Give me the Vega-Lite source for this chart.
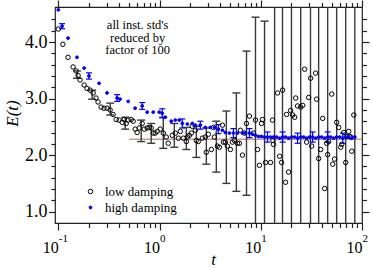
{
  "$schema": "https://vega.github.io/schema/vega-lite/v6.json",
  "width": 307,
  "height": 216,
  "autosize": {"type": "none"},
  "padding": {"left": 55, "top": 7, "right": 11, "bottom": 45},
  "background": "white",
  "config": {
    "view": {"stroke": "#222", "strokeWidth": 1.2},
    "axis": {"labelFont": "Liberation Serif", "titleFont": "Liberation Serif", "labelColor": "black", "titleColor": "black", "tickColor": "#222", "tickWidth": 1.2, "domain": false, "grid": false, "labelOverlap": false, "labelFlush": false, "titleFontWeight": "normal", "titleFontStyle": "italic"},
    "legend": {"orient": "none", "legendX": 29, "legendY": 178, "title": null, "labelFont": "Liberation Serif", "labelFontSize": 13, "labelColor": "black", "rowPadding": 2, "symbolStrokeWidth": 1, "labelOffset": 8, "padding": 0}
  },
  "datasets": {
    "ref": [{"t1": 0.5, "t2": 100, "E": 2.28}],
    "bbars": [
      {"t": 0.153, "lo": 3.36, "hi": 3.49}, {"t": 0.216, "lo": 2.99, "hi": 3.15}, {"t": 0.326, "lo": 2.71, "hi": 2.92},
      {"t": 0.458, "lo": 2.46, "hi": 2.67}, {"t": 0.659, "lo": 2.24, "hi": 2.62}, {"t": 0.828, "lo": 2.21, "hi": 2.56},
      {"t": 1.089, "lo": 2.12, "hi": 2.67}, {"t": 1.4, "lo": 2.14, "hi": 2.56}, {"t": 1.84, "lo": 2.1, "hi": 2.49},
      {"t": 2.31, "lo": 1.96, "hi": 2.51}, {"t": 2.9, "lo": 1.84, "hi": 2.48}, {"t": 3.64, "lo": 1.7, "hi": 2.6},
      {"t": 4.57, "lo": 1.5, "hi": 2.78}, {"t": 5.74, "lo": 1.36, "hi": 3.1}, {"t": 7.23, "lo": 1.29, "hi": 3.84},
      {"t": 8.87, "lo": 0.1, "hi": 4.44}, {"t": 10.9, "lo": 0.2, "hi": 4.37}, {"t": 13.7, "lo": -5, "hi": 10},
      {"t": 16.4, "lo": -5, "hi": 10}, {"t": 20.1, "lo": -5, "hi": 10}, {"t": 24.8, "lo": -5, "hi": 10},
      {"t": 31.0, "lo": -5, "hi": 10}, {"t": 37.3, "lo": -5, "hi": 10}, {"t": 45.8, "lo": -5, "hi": 10},
      {"t": 56.2, "lo": -5, "hi": 10}, {"t": 69.0, "lo": -5, "hi": 10}, {"t": 84.9, "lo": -5, "hi": 10}
    ],
    "ubars": [
      {"t": 0.109, "lo": 4.235, "hi": 4.325}, {"t": 0.201, "lo": 3.345, "hi": 3.455}, {"t": 0.381, "lo": 2.95, "hi": 3.07},
      {"t": 0.674, "lo": 2.81, "hi": 2.93}, {"t": 1.064, "lo": 2.66, "hi": 2.82}, {"t": 1.679, "lo": 2.48, "hi": 2.64},
      {"t": 2.529, "lo": 2.46, "hi": 2.6}, {"t": 3.81, "lo": 2.38, "hi": 2.54}, {"t": 5.37, "lo": 2.31, "hi": 2.47},
      {"t": 7.73, "lo": 2.31, "hi": 2.47}, {"t": 11.65, "lo": 2.23, "hi": 2.41}, {"t": 16.44, "lo": 2.23, "hi": 2.41},
      {"t": 23.12, "lo": 2.21, "hi": 2.39}, {"t": 32.5, "lo": 2.23, "hi": 2.41}, {"t": 45.82, "lo": 2.23, "hi": 2.41},
      {"t": 64.6, "lo": 2.21, "hi": 2.39}
    ],
    "pts": [
      {"s": "low damping", "t": 0.1, "E": 4.23}, {"s": "low damping", "t": 0.111, "E": 3.96}, {"s": "low damping", "t": 0.125, "E": 3.73},
      {"s": "low damping", "t": 0.14, "E": 3.56}, {"s": "low damping", "t": 0.15, "E": 3.49}, {"s": "low damping", "t": 0.157, "E": 3.41},
      {"s": "low damping", "t": 0.164, "E": 3.33}, {"s": "low damping", "t": 0.18, "E": 3.24}, {"s": "low damping", "t": 0.192, "E": 3.18},
      {"s": "low damping", "t": 0.206, "E": 3.15}, {"s": "low damping", "t": 0.221, "E": 3.1}, {"s": "low damping", "t": 0.236, "E": 3.01},
      {"s": "low damping", "t": 0.247, "E": 2.94}, {"s": "low damping", "t": 0.265, "E": 2.85}, {"s": "low damping", "t": 0.283, "E": 2.83},
      {"s": "low damping", "t": 0.303, "E": 2.83}, {"s": "low damping", "t": 0.325, "E": 2.8}, {"s": "low damping", "t": 0.348, "E": 2.72},
      {"s": "low damping", "t": 0.373, "E": 2.63}, {"s": "low damping", "t": 0.399, "E": 2.62}, {"s": "low damping", "t": 0.428, "E": 2.58},
      {"s": "low damping", "t": 0.448, "E": 2.63}, {"s": "low damping", "t": 0.468, "E": 2.56}, {"s": "low damping", "t": 0.49, "E": 2.62},
      {"s": "low damping", "t": 0.525, "E": 2.63}, {"s": "low damping", "t": 0.549, "E": 2.6}, {"s": "low damping", "t": 0.574, "E": 2.46},
      {"s": "low damping", "t": 0.601, "E": 2.4}, {"s": "low damping", "t": 0.63, "E": 2.48}, {"s": "low damping", "t": 0.674, "E": 2.56},
      {"s": "low damping", "t": 0.706, "E": 2.46}, {"s": "low damping", "t": 0.755, "E": 2.48}, {"s": "low damping", "t": 0.791, "E": 2.49},
      {"s": "low damping", "t": 0.828, "E": 2.48}, {"s": "low damping", "t": 0.867, "E": 2.39}, {"s": "low damping", "t": 0.906, "E": 2.39},
      {"s": "low damping", "t": 0.949, "E": 2.42}, {"s": "low damping", "t": 1.016, "E": 2.46}, {"s": "low damping", "t": 1.089, "E": 2.39},
      {"s": "low damping", "t": 1.165, "E": 2.32}, {"s": "low damping", "t": 1.219, "E": 2.21}, {"s": "low damping", "t": 1.337, "E": 2.35},
      {"s": "low damping", "t": 1.432, "E": 2.39}, {"s": "low damping", "t": 1.534, "E": 2.3}, {"s": "low damping", "t": 1.604, "E": 2.42},
      {"s": "low damping", "t": 1.718, "E": 2.3}, {"s": "low damping", "t": 1.841, "E": 2.24}, {"s": "low damping", "t": 1.884, "E": 2.32},
      {"s": "low damping", "t": 1.968, "E": 2.35}, {"s": "low damping", "t": 2.061, "E": 2.39}, {"s": "low damping", "t": 2.109, "E": 2.51},
      {"s": "low damping", "t": 2.259, "E": 2.44}, {"s": "low damping", "t": 2.307, "E": 2.26}, {"s": "low damping", "t": 2.416, "E": 2.24},
      {"s": "low damping", "t": 2.647, "E": 2.3}, {"s": "low damping", "t": 2.834, "E": 2.32}, {"s": "low damping", "t": 2.898, "E": 2.05},
      {"s": "low damping", "t": 3.035, "E": 2.37}, {"s": "low damping", "t": 3.251, "E": 2.1}, {"s": "low damping", "t": 3.404, "E": 2.49},
      {"s": "low damping", "t": 3.483, "E": 2.32}, {"s": "low damping", "t": 3.724, "E": 2.16}, {"s": "low damping", "t": 3.9, "E": 2.14},
      {"s": "low damping", "t": 4.178, "E": 2.53}, {"s": "low damping", "t": 4.273, "E": 2.23}, {"s": "low damping", "t": 4.467, "E": 2.23},
      {"s": "low damping", "t": 4.677, "E": 2.16}, {"s": "low damping", "t": 5.011, "E": 2.1}, {"s": "low damping", "t": 5.248, "E": 2.23},
      {"s": "low damping", "t": 5.495, "E": 2.26}, {"s": "low damping", "t": 5.887, "E": 2.21}, {"s": "low damping", "t": 6.152, "E": 2.21},
      {"s": "low damping", "t": 6.295, "E": 2.44}, {"s": "low damping", "t": 6.592, "E": 2.0}, {"s": "low damping", "t": 6.902, "E": 2.39},
      {"s": "low damping", "t": 7.226, "E": 2.56}, {"s": "low damping", "t": 7.727, "E": 2.69}, {"s": "low damping", "t": 8.472, "E": 2.39},
      {"s": "low damping", "t": 8.872, "E": 2.62}, {"s": "low damping", "t": 9.29, "E": 2.1}, {"s": "low damping", "t": 9.708, "E": 1.82},
      {"s": "low damping", "t": 10.17, "E": 2.56}, {"s": "low damping", "t": 10.4, "E": 2.63}, {"s": "low damping", "t": 11.14, "E": 1.87},
      {"s": "low damping", "t": 12.48, "E": 1.87}, {"s": "low damping", "t": 13.06, "E": 2.62}, {"s": "low damping", "t": 13.2, "E": 2.26},
      {"s": "low damping", "t": 13.37, "E": 2.19}, {"s": "low damping", "t": 14.66, "E": 3.1}, {"s": "low damping", "t": 15.35, "E": 1.98},
      {"s": "low damping", "t": 16.07, "E": 1.87}, {"s": "low damping", "t": 16.44, "E": 3.15}, {"s": "low damping", "t": 17.58, "E": 1.52},
      {"s": "low damping", "t": 17.99, "E": 2.72}, {"s": "low damping", "t": 18.84, "E": 1.7}, {"s": "low damping", "t": 19.72, "E": 2.79},
      {"s": "low damping", "t": 20.65, "E": 2.71}, {"s": "low damping", "t": 21.62, "E": 2.67}, {"s": "low damping", "t": 22.13, "E": 3.01},
      {"s": "low damping", "t": 23.12, "E": 2.87}, {"s": "low damping", "t": 24.77, "E": 2.85}, {"s": "low damping", "t": 25.94, "E": 2.88},
      {"s": "low damping", "t": 27.16, "E": 3.52}, {"s": "low damping", "t": 28.38, "E": 2.23}, {"s": "low damping", "t": 29.72, "E": 3.02},
      {"s": "low damping", "t": 31.12, "E": 3.36}, {"s": "low damping", "t": 31.84, "E": 2.16}, {"s": "low damping", "t": 34.83, "E": 3.45},
      {"s": "low damping", "t": 35.65, "E": 2.99}, {"s": "low damping", "t": 37.33, "E": 1.94}, {"s": "low damping", "t": 39.08, "E": 2.1},
      {"s": "low damping", "t": 40.92, "E": 2.65}, {"s": "low damping", "t": 42.76, "E": 1.41}, {"s": "low damping", "t": 44.78, "E": 2.21},
      {"s": "low damping", "t": 45.82, "E": 2.01}, {"s": "low damping", "t": 46.89, "E": 2.24}, {"s": "low damping", "t": 50.23, "E": 3.08},
      {"s": "low damping", "t": 51.4, "E": 1.84}, {"s": "low damping", "t": 53.7, "E": 1.93}, {"s": "low damping", "t": 56.23, "E": 2.58},
      {"s": "low damping", "t": 58.88, "E": 2.49}, {"s": "low damping", "t": 61.66, "E": 2.14}, {"s": "low damping", "t": 63.1, "E": 2.19},
      {"s": "low damping", "t": 66.07, "E": 2.4}, {"s": "low damping", "t": 69.02, "E": 1.87}, {"s": "low damping", "t": 70.63, "E": 2.33},
      {"s": "low damping", "t": 73.96, "E": 2.42}, {"s": "low damping", "t": 75.68, "E": 2.33}, {"s": "low damping", "t": 77.45, "E": 2.32},
      {"s": "low damping", "t": 79.25, "E": 2.07}, {"s": "low damping", "t": 82.99, "E": 2.71},
      {"s": "high damping", "t": 0.1, "E": 4.57}, {"s": "high damping", "t": 0.109, "E": 4.28}, {"s": "high damping", "t": 0.125, "E": 4.07},
      {"s": "high damping", "t": 0.153, "E": 3.73}, {"s": "high damping", "t": 0.18, "E": 3.54}, {"s": "high damping", "t": 0.201, "E": 3.4},
      {"s": "high damping", "t": 0.253, "E": 3.27}, {"s": "high damping", "t": 0.303, "E": 3.1}, {"s": "high damping", "t": 0.381, "E": 3.01},
      {"s": "high damping", "t": 0.408, "E": 2.99}, {"s": "high damping", "t": 0.49, "E": 2.95}, {"s": "high damping", "t": 0.574, "E": 2.83},
      {"s": "high damping", "t": 0.674, "E": 2.87}, {"s": "high damping", "t": 0.755, "E": 2.76}, {"s": "high damping", "t": 0.867, "E": 2.76},
      {"s": "high damping", "t": 0.993, "E": 2.76}, {"s": "high damping", "t": 1.064, "E": 2.74}, {"s": "high damping", "t": 1.138, "E": 2.67},
      {"s": "high damping", "t": 1.306, "E": 2.6}, {"s": "high damping", "t": 1.432, "E": 2.62}, {"s": "high damping", "t": 1.567, "E": 2.62},
      {"s": "high damping", "t": 1.679, "E": 2.56}, {"s": "high damping", "t": 1.884, "E": 2.55}, {"s": "high damping", "t": 2.109, "E": 2.56},
      {"s": "high damping", "t": 2.259, "E": 2.53}, {"s": "high damping", "t": 2.529, "E": 2.53}, {"s": "high damping", "t": 2.834, "E": 2.49},
      {"s": "high damping", "t": 3.17, "E": 2.49}, {"s": "high damping", "t": 3.483, "E": 2.49}, {"s": "high damping", "t": 3.81, "E": 2.46},
      {"s": "high damping", "t": 4.178, "E": 2.44}, {"s": "high damping", "t": 4.467, "E": 2.4}, {"s": "high damping", "t": 4.9, "E": 2.39},
      {"s": "high damping", "t": 5.37, "E": 2.39}, {"s": "high damping", "t": 5.887, "E": 2.39}, {"s": "high damping", "t": 6.592, "E": 2.39},
      {"s": "high damping", "t": 7.06, "E": 2.39}, {"s": "high damping", "t": 7.73, "E": 2.39}, {"s": "high damping", "t": 8.28, "E": 2.37},
      {"s": "high damping", "t": 8.872, "E": 2.35}, {"s": "high damping", "t": 9.49, "E": 2.33}, {"s": "high damping", "t": 10.17, "E": 2.33},
      {"s": "high damping", "t": 10.89, "E": 2.32}, {"s": "high damping", "t": 11.65, "E": 2.32}, {"s": "high damping", "t": 12.48, "E": 2.32},
      {"s": "high damping", "t": 13.37, "E": 2.32}, {"s": "high damping", "t": 14.3, "E": 2.32}, {"s": "high damping", "t": 15.35, "E": 2.3},
      {"s": "high damping", "t": 16.44, "E": 2.32}, {"s": "high damping", "t": 17.58, "E": 2.32}, {"s": "high damping", "t": 18.84, "E": 2.3},
      {"s": "high damping", "t": 20.2, "E": 2.32}, {"s": "high damping", "t": 21.62, "E": 2.32}, {"s": "high damping", "t": 23.12, "E": 2.3},
      {"s": "high damping", "t": 24.77, "E": 2.32}, {"s": "high damping", "t": 26.5, "E": 2.32}, {"s": "high damping", "t": 28.38, "E": 2.3},
      {"s": "high damping", "t": 30.4, "E": 2.32}, {"s": "high damping", "t": 32.5, "E": 2.32}, {"s": "high damping", "t": 34.83, "E": 2.3},
      {"s": "high damping", "t": 37.33, "E": 2.32}, {"s": "high damping", "t": 39.9, "E": 2.32}, {"s": "high damping", "t": 42.76, "E": 2.3},
      {"s": "high damping", "t": 45.82, "E": 2.32}, {"s": "high damping", "t": 49.0, "E": 2.32}, {"s": "high damping", "t": 52.5, "E": 2.3},
      {"s": "high damping", "t": 56.23, "E": 2.32}, {"s": "high damping", "t": 60.3, "E": 2.32}, {"s": "high damping", "t": 64.6, "E": 2.3},
      {"s": "high damping", "t": 69.02, "E": 2.32}, {"s": "high damping", "t": 73.96, "E": 2.32}, {"s": "high damping", "t": 79.25, "E": 2.3},
      {"s": "high damping", "t": 84.92, "E": 2.32}
    ]
  },
  "layer": [
    {
      "data": {"name": "ref"},
      "mark": {"type": "rule", "color": "#c49a9a", "strokeWidth": 1.5, "clip": true},
      "encoding": {
        "x": {"field": "t1", "type": "quantitative", "scale": {"type": "log", "domain": [0.0928, 100], "nice": false},
              "axis": {"orient": "bottom", "values": [0.1, 1, 10, 100], "tickSize": 7, "labelExpr": "'10'", "labelAlign": "right", "labelDx": 4, "labelFontSize": 16, "labelBaseline": "alphabetic", "labelPadding": 22.5, "title": "t", "titleFontSize": 17, "titleBaseline": "alphabetic", "titleX": 158, "titleY": 41}},
        "x2": {"field": "t2"},
        "y": {"field": "E", "type": "quantitative", "scale": {"domain": [0.8, 4.62], "nice": false, "zero": false},
              "axis": {"orient": "left", "values": [1, 2, 3, 4], "tickSize": 6.5, "format": ".1f", "labelFontSize": 18, "labelPadding": 1.5, "title": "E(t)", "titleFontSize": 17, "titleAngle": 270, "titleAlign": "center", "titleBaseline": "middle", "titleX": -43, "titleY": 106}}
      }
    },
    {
      "data": {"name": "bbars"},
      "mark": {"type": "rule", "color": "#3a3a3a", "strokeWidth": 1.4, "clip": true},
      "encoding": {
        "x": {"field": "t", "type": "quantitative", "scale": {"type": "log", "domain": [0.0928, 100], "nice": false},
              "axis": {"orient": "bottom", "values": [0.2, 0.3, 0.4, 0.5, 0.6, 0.7, 0.8, 0.9, 2, 3, 4, 5, 6, 7, 8, 9, 20, 30, 40, 50, 60, 70, 80, 90], "tickSize": 4.5, "labels": false, "title": null}},
        "y": {"field": "lo", "type": "quantitative", "scale": {"domain": [0.8, 4.62], "nice": false, "zero": false},
              "axis": {"orient": "left", "values": [1.2, 1.4, 1.6, 1.8, 2.2, 2.4, 2.6, 2.8, 3.2, 3.4, 3.6, 3.8, 4.2, 4.4], "tickSize": 4, "labels": false, "title": null}},
        "y2": {"field": "hi"}
      }
    },
    {
      "data": {"name": "bbars"},
      "mark": {"type": "tick", "orient": "horizontal", "color": "#3a3a3a", "size": 8, "thickness": 1.4, "clip": true, "opacity": 1},
      "encoding": {
        "x": {"field": "t", "type": "quantitative", "scale": {"type": "log", "domain": [0.0928, 100], "nice": false},
              "axis": {"orient": "top", "values": [0.1, 1, 10, 100], "tickSize": 7, "labels": false, "title": null}},
        "y": {"field": "lo", "type": "quantitative", "scale": {"domain": [0.8, 4.62], "nice": false, "zero": false},
              "axis": {"orient": "right", "values": [1, 2, 3, 4], "tickSize": 7, "labels": false, "title": null}}
      }
    },
    {
      "data": {"name": "bbars"},
      "mark": {"type": "tick", "orient": "horizontal", "color": "#3a3a3a", "size": 8, "thickness": 1.4, "clip": true, "opacity": 1},
      "encoding": {
        "x": {"field": "t", "type": "quantitative", "scale": {"type": "log", "domain": [0.0928, 100], "nice": false},
              "axis": {"orient": "top", "values": [0.2, 0.3, 0.4, 0.5, 0.6, 0.7, 0.8, 0.9, 2, 3, 4, 5, 6, 7, 8, 9, 20, 30, 40, 50, 60, 70, 80, 90], "tickSize": 4.5, "labels": false, "title": null}},
        "y": {"field": "hi", "type": "quantitative", "scale": {"domain": [0.8, 4.62], "nice": false, "zero": false},
              "axis": {"orient": "right", "values": [1.2, 1.4, 1.6, 1.8, 2.2, 2.4, 2.6, 2.8, 3.2, 3.4, 3.6, 3.8, 4.2, 4.4], "tickSize": 4.5, "labels": false, "title": null}}
      }
    },
    {
      "data": {"name": "ubars"},
      "mark": {"type": "rule", "color": "#0000ff", "strokeWidth": 1.2, "clip": true},
      "encoding": {
        "x": {"field": "t", "type": "quantitative", "scale": {"type": "log", "domain": [0.0928, 100], "nice": false},
              "axis": {"orient": "bottom", "values": [0.1, 1, 10, 100], "ticks": false, "labelExpr": "datum.value < 0.5 ? '-1' : datum.value < 5 ? '0' : datum.value < 50 ? '1' : '2'", "labelAlign": "left", "labelDx": 4, "labelFontSize": 11, "labelBaseline": "alphabetic", "labelPadding": 18.3, "title": null}},
        "y": {"field": "lo", "type": "quantitative", "scale": {"domain": [0.8, 4.62], "nice": false, "zero": false}, "axis": null},
        "y2": {"field": "hi"}
      }
    },
    {
      "data": {"name": "ubars"},
      "mark": {"type": "tick", "orient": "horizontal", "color": "#0000ff", "size": 6, "thickness": 1.2, "clip": true, "opacity": 1},
      "encoding": {
        "x": {"field": "t", "type": "quantitative", "scale": {"type": "log", "domain": [0.0928, 100], "nice": false}, "axis": null},
        "y": {"field": "lo", "type": "quantitative", "scale": {"domain": [0.8, 4.62], "nice": false, "zero": false}, "axis": null}
      }
    },
    {
      "data": {"name": "ubars"},
      "mark": {"type": "tick", "orient": "horizontal", "color": "#0000ff", "size": 6, "thickness": 1.2, "clip": true, "opacity": 1},
      "encoding": {
        "x": {"field": "t", "type": "quantitative", "scale": {"type": "log", "domain": [0.0928, 100], "nice": false}, "axis": null},
        "y": {"field": "hi", "type": "quantitative", "scale": {"domain": [0.8, 4.62], "nice": false, "zero": false}, "axis": null}
      }
    },
    {
      "data": {"name": "pts"},
      "mark": {"type": "point", "shape": "circle", "strokeWidth": 1, "opacity": 1, "clip": true},
      "encoding": {
        "x": {"field": "t", "type": "quantitative", "scale": {"type": "log", "domain": [0.0928, 100], "nice": false}, "axis": null},
        "y": {"field": "E", "type": "quantitative", "scale": {"domain": [0.8, 4.62], "nice": false, "zero": false}, "axis": null},
        "stroke": {"field": "s", "type": "nominal", "scale": {"domain": ["low damping", "high damping"], "range": ["black", "#0000ff"]}},
        "fill": {"field": "s", "type": "nominal", "scale": {"domain": ["low damping", "high damping"], "range": ["transparent", "#0000ff"]}},
        "size": {"field": "s", "type": "nominal", "scale": {"domain": ["low damping", "high damping"], "range": [20, 8]}}
      }
    },
    {
      "data": {"values": [{}]},
      "mark": {"type": "text", "text": ["all inst. std's", "reduced by", "factor of 100"], "font": "Liberation Serif", "fontSize": 12.5, "lineHeight": 12.5, "align": "center", "baseline": "middle", "color": "black"},
      "encoding": {
        "x": {"datum": 0.608, "type": "quantitative", "scale": {"type": "log", "domain": [0.0928, 100], "nice": false}, "axis": null},
        "y": {"datum": 4.3, "type": "quantitative", "scale": {"domain": [0.8, 4.62], "nice": false, "zero": false}, "axis": null}
      }
    }
  ],
  "resolve": {"axis": {"x": "independent", "y": "independent"}}
}
